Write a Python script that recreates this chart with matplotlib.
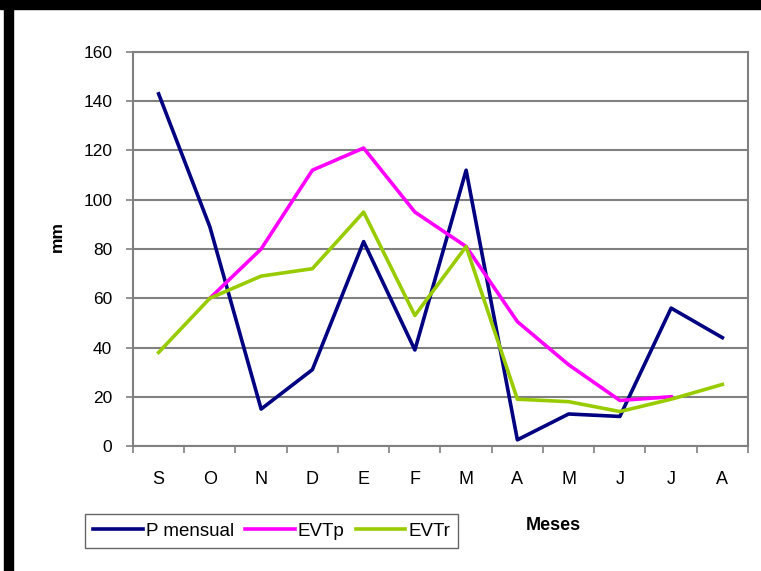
import numpy as np
import matplotlib.pyplot as plt
from matplotlib.patches import Rectangle

plt.rcParams['font.family'] = ['Liberation Sans', 'DejaVu Sans']

# meses del año hidrológico
meses = ["S", "O", "N", "D", "E", "F", "M", "A", "M", "J", "J", "A"]

# precipitación mensual y evapotranspiraciones (mm)
p_mensual = [143, 89, 15, 31, 83, 39, 112, 2.5, 13, 12, 56, 44]
evtp = [np.nan, 60, 80, 112, 121, 95, 81, 50.5, 33, 18.5, 20, np.nan]
evtr = [38, 60, 69, 72, 95, 53, 81, 19, 18, 14, 19, 25]

W, H = 761, 571
fig = plt.figure(figsize=(W / 100, H / 100), dpi=100)
ax = fig.add_axes([133 / W, 125 / H, 615 / W, 394 / H])

x = np.arange(len(meses))
ax.plot(x, p_mensual, color="#000080", lw=2.6, label="P mensual", zorder=3)
ax.plot(x, evtp, color="#FF00FF", lw=2.6, label="EVTp", zorder=3)
ax.plot(x, evtr, color="#99CC00", lw=2.6, label="EVTr", zorder=3)

ax.set_xlim(-0.5, len(meses) - 0.5)
ax.set_ylim(0, 160)
ax.set_yticks(np.arange(0, 161, 20))
ax.set_xticks(x)
ax.set_xticklabels(meses)
ax.set_xticks(np.arange(-0.5, len(meses), 1), minor=True)
ax.tick_params(axis="x", which="major", length=0, pad=18, labelsize=13)
ax.tick_params(axis="x", which="minor", length=5, color="#808080", width=1.2)
ax.tick_params(axis="y", length=5, color="#808080", width=1.2, pad=10, labelsize=12.5)

ax.yaxis.grid(True, color="#808080", lw=1.5)
ax.set_axisbelow(True)
for s in ax.spines.values():
    s.set_color("#808080")
    s.set_linewidth(1.5)

fig.text(57 / W, 1 - 236 / H, "mm", fontweight="bold", fontsize=12.5,
         rotation=90, ha="center", va="center")
fig.text(553 / W, 1 - 525 / H, "Meses", fontweight="bold", fontsize=13,
         ha="center", va="center")

leg = fig.legend(loc="center", bbox_to_anchor=(271.5 / W, 1 - 531 / H), ncol=3,
                 fontsize=13.5, frameon=True, fancybox=False, handlelength=2.65,
                 handletextpad=0.15, columnspacing=0.6, borderpad=0.45)
leg.get_frame().set_edgecolor("#404040")
leg.get_frame().set_linewidth(1.0)

# marco negro superior e izquierdo
fig.patches.append(Rectangle((4 / W, 0), 9 / W, 1, transform=fig.transFigure,
                             color="black", zorder=0))
fig.patches.append(Rectangle((0, 1 - 9 / H), 1, 9 / H, transform=fig.transFigure,
                             color="black", zorder=0))

fig.savefig("out.png", dpi=100)
